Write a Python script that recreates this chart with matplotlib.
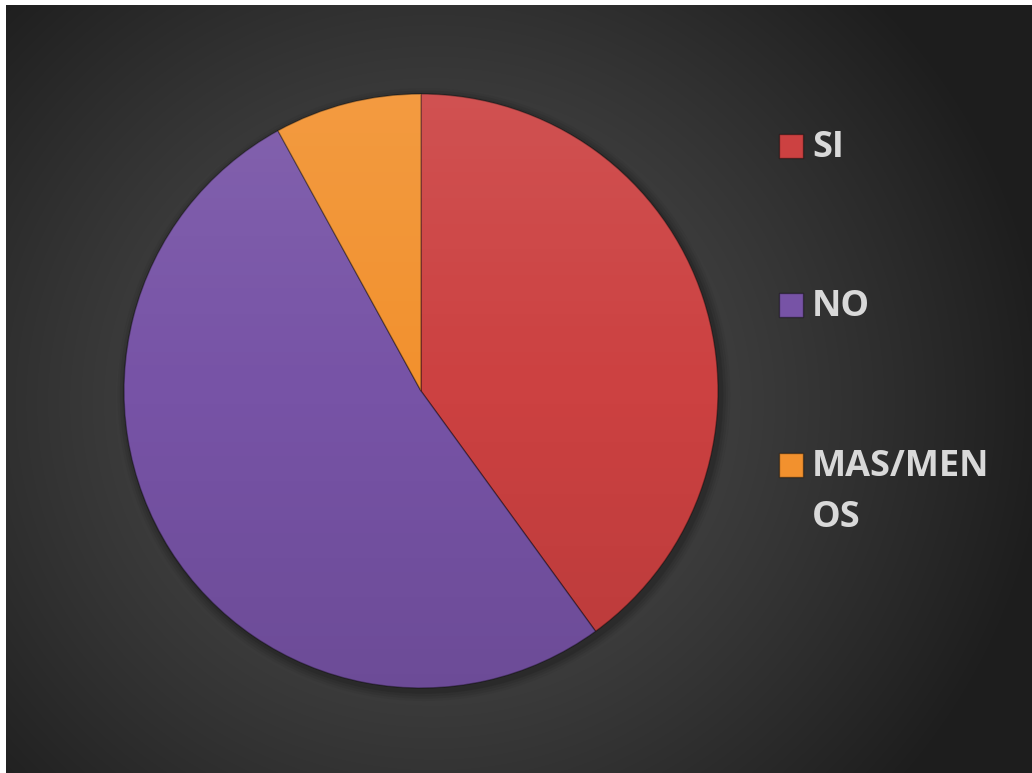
import numpy as np
import matplotlib.pyplot as plt
from matplotlib.patches import Rectangle, Circle

# data
labels = ["SI", "NO", "MAS/MENOS"]
legend_labels = ["SI", "NO", "MAS/MEN\nOS"]
values = [10, 13, 2]
colors = ["#cc4141", "#7753a6", "#f2912e"]

W, H = 1032, 773
fig = plt.figure(figsize=(W / 100, H / 100), dpi=100, facecolor="white")

# dark radial background (the slide area leaves a thin white margin top/left)
bg = fig.add_axes([6 / W, 0, 1 - 6 / W, 1 - 5 / H])
bg.set_axis_off()
yy, xx = np.mgrid[0:H, 0:W]
d = np.hypot(xx - 430, (yy - 400) * 1.05)
t = np.clip(d / 620, 0, 1) ** 1.3
shade = 0.31 * (1 - t) + 0.115 * t
bg.imshow(np.dstack([shade, shade, shade]), aspect="auto", extent=[0, 1, 0, 1])
bg.set_xlim(0, 1)
bg.set_ylim(0, 1)

# pie
ax = fig.add_axes([124 / W, (H - 688) / H, 594 / W, 594 / H])
ax.set_axis_off()

# soft shadow
for i, a in enumerate([0.10, 0.08, 0.06, 0.04]):
    ax.add_patch(Circle((0.01, -0.012), 1.0 + 0.008 * (i + 1), color="black",
                        alpha=a, lw=0, zorder=0, clip_on=False))

wedges, _ = ax.pie(values, colors=colors, startangle=90, counterclock=False,
                   radius=1.0,
                   wedgeprops=dict(edgecolor=(0, 0, 0, 0.35), linewidth=1))
for w in wedges:
    w.set_zorder(2)

# vertical light/dark gradient for a slightly 3D look
g = np.linspace(1, 0, 256)[:, None] * np.ones((1, 2))
overlay = np.zeros((256, 2, 4))
overlay[..., :3] = np.where(g[..., None] > 0.5, 1.0, 0.0)
overlay[..., 3] = np.abs(g - 0.5) * 0.18
for w in wedges:
    im = ax.imshow(overlay, extent=[-1, 1, -1, 1], aspect="auto", zorder=3)
    im.set_clip_path(w)

ax.set_xlim(-1.0, 1.0)
ax.set_ylim(-1.0, 1.0)
ax.set_aspect("equal")

# legend
for i, (lab, col) in enumerate(zip(legend_labels, colors)):
    ypix = [146, 305, 465][i]
    fig.patches.append(Rectangle((779 / W, 1 - (ypix + 12) / H), 24 / W, 24 / H,
                                 transform=fig.transFigure, facecolor=col,
                                 edgecolor=(0, 0, 0, 0.4), linewidth=1))
    fig.text(812 / W, 1 - (ypix - 16) / H, lab, ha="left", va="top",
             fontsize=26, fontweight="bold", family="Open Sans",
             color="#d9d9d9", linespacing=1.55)

fig.savefig("out.png", dpi=100, facecolor=fig.get_facecolor())
